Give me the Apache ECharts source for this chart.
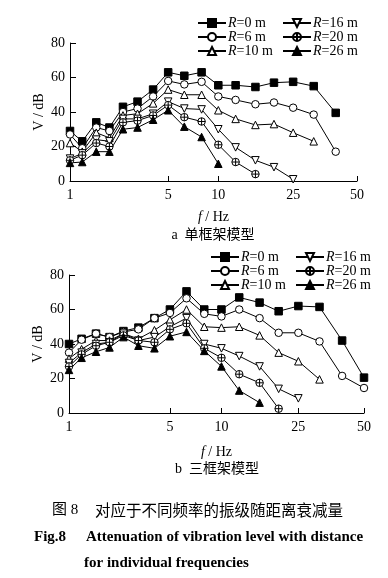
<!DOCTYPE html>
<html>
<head>
<meta charset="utf-8">
<script src="https://cdn.jsdelivr.net/npm/echarts@6/dist/echarts.min.js"></script>
<style>
html,body{margin:0;padding:0;background:#fff;}
#c{width:388px;height:578px;}
</style>
</head>
<body>
<div id="c"></div>
<script>
// 1/3-octave band centre frequencies (Hz)
const freqs = [1, 1.25, 1.6, 2, 2.5, 3.15, 4, 5, 6.3, 8, 10, 12.5, 16, 20, 25, 31.5, 40, 50];
const xTickLabels = [1, 5, 10, 25, 50];
const seriesNames = ['R=0 m', 'R=6 m', 'R=10 m', 'R=16 m', 'R=20 m', 'R=26 m'];

// (a) single-frame model, V / dB
const a_R0  = [29, 23, 34, 31, 43, 46, 53, 63, 61, 63, 55.5, 55.5, 54.5, 57, 57.5, 55, 39.5];
const a_R6  = [27, 19, 31, 29, 40, 42, 49, 58, 56, 57.5, 49, 47, 44.5, 45.5, 42.5, 38.5, 17];
const a_R10 = [22, 17, 28, 25, 38, 39, 45, 53, 50, 50, 41, 36, 32.5, 33, 28, 23];
const a_R16 = [13, 16, 24, 23, 36, 36, 39, 46, 42, 41.5, 30, 19.5, 12, 8, 1];
const a_R20 = [12, 15, 22, 20, 34, 35, 38, 44, 37, 34.5, 21, 11, 4];
const a_R26 = [10.5, 11, 17, 17, 30, 31, 35.5, 41, 31.5, 25.5, 10];

// (b) three-frame model, V / dB
const b_R0  = [40, 43, 46, 44, 47.5, 49.5, 55, 60, 70.5, 60, 60, 67, 64, 59, 62, 61.5, 42, 20.5];
const b_R6  = [35, 42.5, 46, 44, 47, 48.5, 55, 58, 66.5, 57.5, 56, 60, 55, 46.5, 46.5, 41.5, 21.5, 14.5];
const b_R10 = [31.5, 37, 42, 42, 46, 43, 48, 54, 60, 50, 49.5, 50, 45, 35, 30, 19.5];
const b_R16 = [29, 35, 40, 41, 46, 42, 44, 50, 55, 40, 37.5, 33, 27, 14, 8.5];
const b_R20 = [27, 34, 39, 41, 45, 42, 41, 48.5, 52, 37.5, 32, 22.5, 17.5, 2.5];
const b_R26 = [25, 32, 35.5, 38, 44, 39, 37.5, 44.5, 47, 36, 27, 13, 6];

// power-scale exponent of the original frequency axis
const P = 0.15;
const fx = f => Math.pow(f, P);

const SERIF = '"Liberation Serif", "DejaVu Serif", serif';
const CJK = '"Liberation Serif", "Noto Sans CJK SC", serif';

const symbols = [
  {symbol: 'rect', fill: '#000'},
  {symbol: 'circle', fill: '#fff'},
  {symbol: 'path://M0,-10 L10,8 L-10,8 Z', fill: '#fff'},
  {symbol: 'path://M0,10 L10,-8 L-10,-8 Z', fill: '#fff'},
  {symbol: 'path://M0,-10 A10,10 0 1,1 0,10 A10,10 0 1,1 0,-10 Z M-10,0 L10,0 M0,-10 L0,10', fill: '#fff'},
  {symbol: 'path://M0,-10 L10,8 L-10,8 Z', fill: '#000'}
];

function mkSeries(arrs, gridIdx) {
  return arrs.map((vals, k) => ({
    name: seriesNames[k],
    type: 'line',
    xAxisIndex: gridIdx,
    yAxisIndex: gridIdx,
    data: vals.map((v, i) => [fx(freqs[i]), v]),
    symbol: symbols[k].symbol,
    symbolSize: 7.5,
    showAllSymbol: true,
    lineStyle: {color: '#000', width: 1},
    itemStyle: {color: symbols[k].fill, borderColor: '#000', borderWidth: 1},
    emphasis: {disabled: true},
    animation: false
  }));
}

function mkX(gridIdx, nameGap) {
  const vals = xTickLabels.map(fx);
  return {
    gridIndex: gridIdx,
    type: 'value',
    min: fx(1),
    max: fx(50),
    splitLine: {show: false},
    axisLine: {lineStyle: {color: '#000', width: 1}},
    axisTick: {show: true, inside: true, length: 5, customValues: vals, lineStyle: {color: '#000'}},
    axisLabel: {
      customValues: vals,
      margin: 7,
      color: '#000',
      fontFamily: SERIF,
      fontSize: 14,
      formatter: v => String(Math.round(Math.pow(v, 1 / P)))
    },
    name: '{i|f} / Hz',
    nameLocation: 'middle',
    nameGap: nameGap,
    nameMoveOverlap: false,
    nameTextStyle: {color: '#000', fontFamily: SERIF, fontSize: 14,
      rich: {i: {fontStyle: 'italic', fontFamily: SERIF, fontSize: 14, color: '#000'}}}
  };
}

function mkY(gridIdx) {
  return {
    gridIndex: gridIdx,
    type: 'value',
    min: 0, max: 80, interval: 20,
    splitLine: {show: false},
    axisLine: {show: true, lineStyle: {color: '#000', width: 1}},
    axisTick: {show: true, inside: true, length: 6, lineStyle: {color: '#000'}},
    axisLabel: {color: '#000', fontFamily: SERIF, fontSize: 14, margin: 5},
    name: 'V / dB',
    nameLocation: 'middle',
    nameRotate: 90,
    nameGap: 24,
    nameMoveOverlap: false,
    nameTextStyle: {color: '#000', fontFamily: SERIF, fontSize: 14}
  };
}

function mkLegend(names, left, top) {
  return {
    data: names,
    orient: 'vertical',
    left: left, top: top,
    itemWidth: 28, itemHeight: 10,
    itemGap: 0,
    padding: 0,
    selectedMode: false,
    formatter: n => '{i|R}' + n.slice(1),
    textStyle: {color: '#000', fontFamily: SERIF, fontSize: 14, lineHeight: 13.5,
      padding: [0, 0, 0, -3],
      rich: {i: {fontStyle: 'italic', fontFamily: SERIF, fontSize: 14, color: '#000', lineHeight: 13.5}}}
  };
}

const option = {
  backgroundColor: '#fff',
  animation: false,
  grid: [
    {left: 70, top: 43, width: 287, height: 138},
    {left: 69, top: 275, width: 295, height: 138}
  ],
  xAxis: [mkX(0, 29), mkX(1, 32)],
  yAxis: [mkY(0), mkY(1)],
  legend: [
    mkLegend(seriesNames.slice(0, 3), 197, 16),
    mkLegend(seriesNames.slice(3), 282, 16),
    mkLegend(seriesNames.slice(0, 3), 210, 250),
    mkLegend(seriesNames.slice(3), 295, 250)
  ],
  series: mkSeries([a_R0, a_R6, a_R10, a_R16, a_R20, a_R26], 0)
    .concat(mkSeries([b_R0, b_R6, b_R10, b_R16, b_R20, b_R26], 1)),
  graphic: [
    {type: 'text', x: 213, y: 235, style: {text: 'a  单框架模型', fill: '#000', font: '14px ' + CJK, align: 'center', verticalAlign: 'middle'}},
    {type: 'text', x: 217, y: 469, style: {text: 'b  三框架模型', fill: '#000', font: '14px ' + CJK, align: 'center', verticalAlign: 'middle'}},
    {type: 'text', x: 52, y: 510, style: {text: '图 8', fill: '#000', font: '15px ' + CJK, align: 'left', verticalAlign: 'middle'}},
    {type: 'text', x: 95, y: 510, style: {text: '对应于不同频率的振级随距离衰减量', fill: '#000', font: '15.5px "Noto Sans CJK SC", sans-serif', align: 'left', verticalAlign: 'middle'}},
    {type: 'text', x: 34, y: 537, style: {text: 'Fig.8', fill: '#000', font: 'bold 15px ' + SERIF, align: 'left', verticalAlign: 'middle'}},
    {type: 'text', x: 86, y: 537, style: {text: 'Attenuation of vibration level with distance', fill: '#000', font: 'bold 15px ' + SERIF, align: 'left', verticalAlign: 'middle'}},
    {type: 'text', x: 84, y: 563, style: {text: 'for individual frequencies', fill: '#000', font: 'bold 15px ' + SERIF, align: 'left', verticalAlign: 'middle'}}
  ]
};

const chart = echarts.init(document.getElementById('c'), null, {renderer: 'canvas'});
chart.setOption(option);
</script>
</body>
</html>
